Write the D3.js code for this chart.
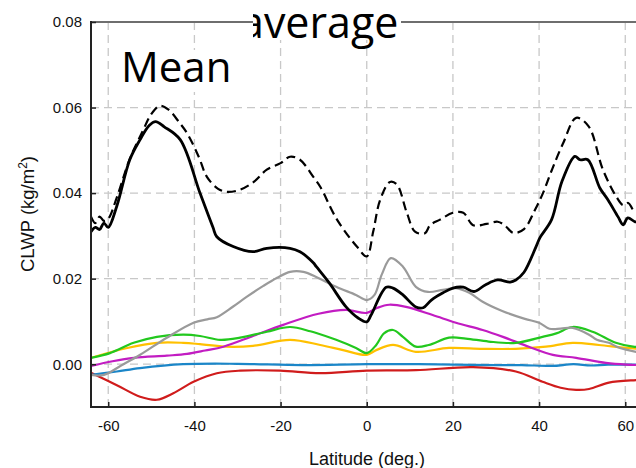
<!DOCTYPE html>
<html>
<head>
<meta charset="utf-8">
<script src="https://cdn.jsdelivr.net/npm/d3@7"></script>
<style>
  html, body { margin: 0; padding: 0; background: #fff; }
  svg { display: block; }
</style>
</head>
<body>
<svg id="chart" width="636" height="468"></svg>
<script>
// Zonal-mean cloud liquid water path by latitude, one [lat, value] list per series.
const xTicks = [-60, -40, -20, 0, 20, 40, 60];
const yTicks = [0.00, 0.02, 0.04, 0.06, 0.08];

const meanSolid = [[-64,0.031],[-63,0.032],[-62,0.0315],[-61,0.033],[-60,0.032],[-58,0.037],[-55,0.0478],[-52.6,0.0525],[-50.5,0.0558],[-49,0.0567],[-47,0.0555],[-43.3,0.0525],[-38.7,0.040],[-35.7,0.032],[-34.8,0.0298],[-31,0.0275],[-26.4,0.0263],[-23.2,0.0271],[-17.8,0.0271],[-15.5,0.0263],[-12.4,0.0237],[-11.7,0.0228],[-8.7,0.019],[-4.8,0.0134],[-2,0.0108],[0,0.0099],[1,0.0115],[4.5,0.018],[6.1,0.0178],[8.4,0.0162],[11.4,0.0134],[13.1,0.0132],[15,0.015],[17.7,0.0167],[20,0.0178],[22.4,0.018],[24.9,0.017],[27.6,0.0186],[30.4,0.0197],[33.3,0.0192],[34.6,0.0197],[36.5,0.0215],[39.3,0.0275],[40.2,0.0296],[42.9,0.0338],[45.3,0.0427],[48.3,0.0486],[49.5,0.0478],[51.3,0.0478],[54.1,0.0412],[56,0.0384],[58.3,0.0345],[59.5,0.0326],[60.6,0.0342],[62.3,0.0333],[64,0.0333]];

const meanDashed = [[-64,0.0345],[-63,0.033],[-62,0.0345],[-61,0.0335],[-60,0.034],[-58,0.039],[-55,0.048],[-52,0.0545],[-50,0.0585],[-48,0.0604],[-46,0.0595],[-43.5,0.0565],[-41.7,0.054],[-39,0.0485],[-37.1,0.0438],[-34.5,0.041],[-32.5,0.0403],[-29.4,0.0408],[-26,0.0428],[-23.2,0.0455],[-20,0.047],[-17.8,0.0485],[-15.5,0.0478],[-12.4,0.0438],[-10.8,0.0415],[-6.9,0.0338],[-2.3,0.0275],[0,0.0252],[1.5,0.031],[3.1,0.0384],[5.4,0.0426],[7,0.042],[9.3,0.0354],[11.2,0.031],[13.5,0.0306],[14.7,0.0325],[17,0.0338],[20,0.0354],[22.4,0.0354],[24.7,0.0325],[27.8,0.0328],[30.4,0.0333],[32,0.0325],[34,0.0307],[36.5,0.0316],[39,0.036],[40.9,0.040],[43,0.0455],[45.6,0.0517],[48.6,0.0576],[51.5,0.0556],[54.8,0.0455],[57.9,0.0392],[59.5,0.0372],[60.7,0.0377],[62,0.036],[64,0.036]];

const grayLine = [[-64,-0.0025],[-61,-0.0025],[-57,-0.0003],[-52.6,0.0022],[-46.4,0.0062],[-40.2,0.0097],[-37,0.0105],[-34.8,0.011],[-31,0.0135],[-27.8,0.0158],[-24,0.0183],[-20.8,0.0202],[-17.8,0.0216],[-14.7,0.0216],[-11.5,0.0203],[-7.1,0.0181],[-2.5,0.0162],[0,0.015],[1.8,0.0162],[3.5,0.021],[5.6,0.0248],[8.4,0.0228],[11.4,0.0181],[14.2,0.0169],[17.7,0.0174],[20.7,0.0178],[23.8,0.0167],[26.9,0.0146],[31.3,0.0125],[36.7,0.0106],[40,0.0097],[42.4,0.0083],[45,0.0083],[47.8,0.0085],[51.6,0.0069],[53.4,0.0057],[56.2,0.005],[58,0.0041],[60.2,0.0034],[62.5,0.0029],[64,0.0028]];

const magentaLine = [[-64,-0.0004],[-59,0.0007],[-54,0.0015],[-46.4,0.002],[-41.7,0.0024],[-37.5,0.0032],[-33.3,0.0041],[-26.4,0.0066],[-19.4,0.0092],[-11.2,0.0118],[-4.8,0.0127],[0,0.012],[2.5,0.0132],[5.2,0.0139],[9.1,0.0134],[15.3,0.0115],[20.7,0.0097],[26.9,0.008],[31.6,0.0064],[37.6,0.0041],[43.2,0.0022],[48.6,0.0015],[55.5,0.0003],[60.2,-0.0001],[64,-0.0002]];

const greenLine = [[-64,0.0015],[-59.6,0.0026],[-54.1,0.005],[-48.7,0.0064],[-42.6,0.0069],[-38.7,0.0066],[-34,0.0057],[-29.4,0.0062],[-23.2,0.0076],[-17.8,0.0087],[-13.1,0.0077],[-11.7,0.0073],[-7.1,0.0057],[-2.5,0.0038],[0,0.0026],[2.2,0.0045],[4,0.0072],[6.1,0.008],[8.4,0.0064],[11.4,0.0041],[14.4,0.0045],[19.1,0.0062],[23,0.006],[28.3,0.0053],[34.6,0.005],[40.8,0.0064],[44,0.0072],[47.8,0.0087],[52.4,0.0076],[57.8,0.005],[61.8,0.0041],[64,0.004]];

const yellowLine = [[-64,0.0015],[-55.6,0.0038],[-48.7,0.005],[-42.6,0.005],[-38.7,0.0047],[-32.5,0.0041],[-26.4,0.0043],[-17.8,0.0057],[-10.8,0.0045],[-5.5,0.0033],[0,0.0022],[2.2,0.0033],[6.1,0.0045],[11.4,0.0029],[19.1,0.0038],[26.9,0.0036],[34.6,0.0036],[41.6,0.0041],[47.8,0.005],[53.9,0.0045],[60.2,0.0038],[64,0.0036]];

const blueLine = [[-64,-0.0025],[-58,-0.0017],[-52.6,-0.0009],[-42.6,0],[-30,0.0001],[-15,-0.0002],[0,0],[12,0],[20,-0.0001],[30,-0.0002],[36,-0.0002],[43,-0.0004],[48,0],[52,-0.0003],[56,-0.0001],[64,-0.0001]];

const redLine = [[-64,-0.002],[-58,-0.0049],[-52.6,-0.0076],[-48.7,-0.0083],[-44.9,-0.0068],[-40.2,-0.0041],[-34.8,-0.0021],[-29.4,-0.0015],[-20.1,-0.0015],[-10.8,-0.0021],[0,-0.0015],[11.4,-0.0014],[24.7,-0.0007],[34.6,-0.0017],[40.8,-0.0041],[45,-0.0055],[48.6,-0.006],[51.6,-0.0058],[56.2,-0.0043],[62.5,-0.0037],[64,-0.0036]];

const svg = d3.select("#chart");
const pLeft = 91, pTop = 22, pRight = 642.5, pBottom = 407;

const x = d3.scaleLinear().domain([-64, 64]).range([pLeft, pRight]);
const y = d3.scaleLinear().domain([-0.01, 0.08]).range([pBottom, pTop]);

const defs = svg.append("defs");
defs.append("clipPath").attr("id", "plotClip")
  .append("rect").attr("x", pLeft).attr("y", pTop)
  .attr("width", pRight - pLeft).attr("height", pBottom - pTop);
defs.append("clipPath").attr("id", "capClip")
  .append("rect").attr("x", 253).attr("y", 0).attr("width", 150).attr("height", 60);

// dashed grid
const grid = svg.append("g").attr("stroke", "#c8c8c8").attr("stroke-width", 1.3)
  .attr("stroke-dasharray", "8,5");
grid.selectAll("line.v").data(xTicks).join("line").attr("class", "v")
  .attr("x1", d => x(d)).attr("x2", d => x(d)).attr("y1", pTop).attr("y2", pBottom);
grid.selectAll("line.h").data(yTicks.filter(d => d < 0.08)).join("line").attr("class", "h")
  .attr("x1", pLeft).attr("x2", pRight).attr("y1", d => y(d)).attr("y2", d => y(d));

const smooth = d3.line().x(d => x(d[0])).y(d => y(d[1])).curve(d3.curveCatmullRom.alpha(0.5));
const plot = svg.append("g").attr("clip-path", "url(#plotClip)").attr("fill", "none")
  .attr("stroke-linejoin", "round").attr("stroke-linecap", "round");

const colored = [
  [redLine, "#d01c1c"],
  [blueLine, "#1b86c8"],
  [yellowLine, "#ffc000"],
  [magentaLine, "#c21cc2"],
  [greenLine, "#22c81e"],
  [grayLine, "#9a9a9a"]
];
colored.forEach(([data, color]) => {
  plot.append("path").datum(data).attr("d", smooth)
    .attr("stroke", color).attr("stroke-width", 2.2);
});

plot.append("path").datum(meanDashed).attr("d", smooth)
  .attr("stroke", "#000").attr("stroke-width", 2.2).attr("stroke-dasharray", "9,5")
  .attr("stroke-linecap", "butt");
plot.append("path").datum(meanSolid).attr("d", smooth)
  .attr("stroke", "#000").attr("stroke-width", 2.8);

// frame
svg.append("line").attr("x1", pLeft).attr("x2", 636).attr("y1", pTop).attr("y2", pTop)
  .attr("stroke", "#6e6e6e").attr("stroke-width", 2);

const yAxis = svg.append("g").attr("transform", `translate(${pLeft},0)`)
  .call(d3.axisLeft(y).tickValues(yTicks).tickFormat(d3.format(".2f"))
    .tickSizeInner(-5).tickSizeOuter(0).tickPadding(9));
const xAxis = svg.append("g").attr("transform", `translate(0,${pBottom})`)
  .call(d3.axisBottom(x).tickValues(xTicks).tickFormat(d => String(d))
    .tickSizeInner(-5).tickSizeOuter(0).tickPadding(13));
[yAxis, xAxis].forEach(a => {
  a.select(".domain").attr("stroke", "#222").attr("stroke-width", 2);
  a.selectAll(".tick line").attr("stroke", "#222").attr("stroke-width", 1.5);
  a.selectAll(".tick text").attr("fill", "#111").attr("font-size", 15)
    .attr("font-family", "Liberation Sans, Arial, sans-serif");
});
yAxis.select(".domain").attr("d", `M0,${pTop - 1}V${pBottom + 1}`);
xAxis.select(".domain").attr("d", `M${pLeft - 1},0H${pRight}`);

// axis titles
svg.append("text").attr("x", 367).attr("y", 465).attr("text-anchor", "middle")
  .attr("font-family", "Liberation Sans, Arial, sans-serif").attr("font-size", 18)
  .attr("fill", "#111").text("Latitude (deg.)");

const yt = svg.append("text").attr("transform", "translate(34,214) rotate(-90)")
  .attr("text-anchor", "middle").attr("font-family", "Liberation Sans, Arial, sans-serif")
  .attr("font-size", 18.5).attr("fill", "#111");
yt.append("tspan").text("CLWP (kg/m");
yt.append("tspan").attr("font-size", 12).attr("dy", -7).text("2");
yt.append("tspan").attr("dy", 7).text(")");

// overlaid captions on white boxes
svg.append("rect").attr("x", 253).attr("y", 0).attr("width", 148).attr("height", 40).attr("fill", "#fff");
svg.append("text").attr("x", 240).attr("y", 38).attr("clip-path", "url(#capClip)")
  .attr("font-family", "Open Sans, sans-serif").attr("font-size", 43).attr("fill", "#000")
  .text("average");

svg.append("rect").attr("x", 118).attr("y", 50).attr("width", 122).attr("height", 42).attr("fill", "#fff");
svg.append("text").attr("x", 121).attr("y", 82)
  .attr("font-family", "Open Sans, sans-serif").attr("font-size", 42).attr("fill", "#000")
  .text("Mean");
</script>
</body>
</html>
